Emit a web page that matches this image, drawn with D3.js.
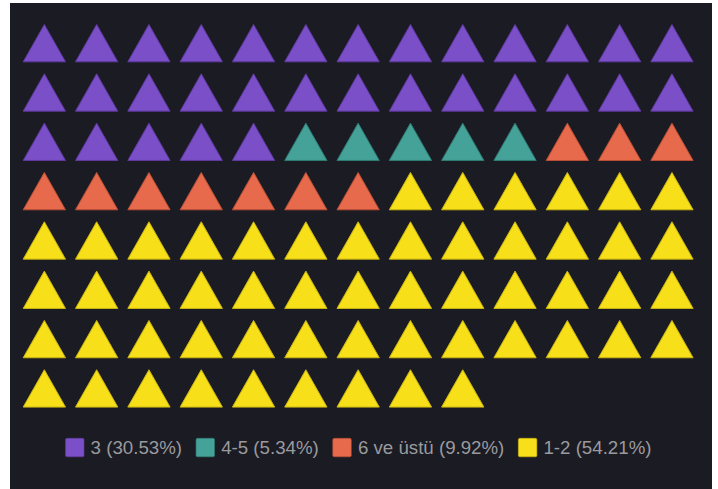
<!DOCTYPE html>
<html><head><meta charset="utf-8">
<script src="https://cdn.jsdelivr.net/npm/d3@7"></script>
<style>html,body{margin:0;padding:0;background:#fff;}svg{display:block;}</style>
</head><body>
<svg id="chart" width="718" height="489"></svg>
<script>
const categories = ["3", "4-5", "6 ve üstü", "1-2"];
const counts = [31, 5, 10, 54];
const percents = ["30.53%", "5.34%", "9.92%", "54.21%"];
const colors = ["#7b4fc7", "#45a298", "#e86a4c", "#f7e01a"];
const strokes = ["#5f3aa0", "#2f7d74", "#b94f36", "#c9b50f"];
const nCols = 13, nRows = 8;

const svg = d3.select("#chart");
svg.append("rect").attr("x", 10).attr("y", 3).attr("width", 702).attr("height", 486).attr("fill", "#1b1b23");

const x = d3.scaleBand().domain(d3.range(nCols)).range([22.7, 693.6]).paddingInner(0.172).paddingOuter(0);
const y = d3.scaleBand().domain(d3.range(nRows)).range([24, 407.6]).paddingInner(0.223).paddingOuter(0);

const cells = [];
categories.forEach((c, ci) => { for (let k = 0; k < counts[ci]; k++) cells.push(ci); });

const w = x.bandwidth(), h = y.bandwidth();
svg.append("g").selectAll("path").data(cells).join("path")
  .attr("d", (ci, i) => {
    const cx = x(i % nCols), cy = y(Math.floor(i / nCols));
    return `M${cx + 0.5},${cy + h - 0.5}L${cx + w / 2},${cy + 0.5}L${cx + w - 0.5},${cy + h - 0.5}Z`;
  })
  .attr("fill", ci => colors[ci])
  .attr("stroke", ci => strokes[ci])
  .attr("stroke-width", 1)
  .attr("stroke-linejoin", "miter");

// legend
const legend = svg.append("g");
const fontSize = 18.7, sq = 18.5, gapSq = 6.6, gapItem = 14;
const items = legend.selectAll("g").data(categories).join("g");
items.append("rect").attr("width", sq).attr("height", sq).attr("rx", 1.5)
  .attr("fill", (d, i) => colors[i]).attr("stroke", (d, i) => strokes[i]).attr("stroke-width", 0.6);
items.append("text").attr("x", sq + gapSq).attr("y", sq / 2).attr("dy", "0.35em")
  .attr("font-family", "'Liberation Sans', Arial, sans-serif").attr("font-size", fontSize)
  .attr("fill", "#9a9a9e")
  .text((d, i) => `${d} (${percents[i]})`);
let offs = 0;
const widths = [];
items.each(function () { widths.push(this.getBBox().width); });
const total = d3.sum(widths) + gapItem * (widths.length - 1);
const startX = 358.5 - total / 2;
items.attr("transform", (d, i) => {
  const t = `translate(${startX + offs},438.3)`;
  offs += widths[i] + gapItem;
  return t;
});
</script>
</body></html>
